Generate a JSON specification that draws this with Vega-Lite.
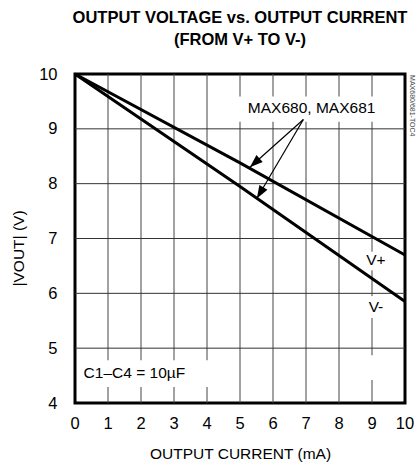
{
  "$schema": "https://vega.github.io/schema/vega-lite/v6.json",
  "autosize": {"type": "none"},
  "padding": {"left": 75, "top": 74, "right": 12, "bottom": 63},
  "width": 330,
  "height": 329,
  "background": "white",
  "title": {
    "text": ["OUTPUT VOLTAGE vs. OUTPUT CURRENT", "(FROM V+ TO V-)"],
    "anchor": "middle",
    "fontSize": 16.5,
    "fontWeight": "bold",
    "lineHeight": 22,
    "offset": 18,
    "color": "black"
  },
  "datasets": {
    "curves": [
      {"current": 0, "vout": 10, "series": "V+"},
      {"current": 5, "vout": 8.38, "series": "V+"},
      {"current": 10, "vout": 6.7, "series": "V+"},
      {"current": 0, "vout": 10, "series": "V-"},
      {"current": 5, "vout": 7.95, "series": "V-"},
      {"current": 10, "vout": 5.85, "series": "V-"}
    ],
    "gridx": [
      {"v": 1}, {"v": 2}, {"v": 3}, {"v": 4}, {"v": 5},
      {"v": 6}, {"v": 7}, {"v": 8}, {"v": 9}
    ],
    "gridy": [
      {"v": 5}, {"v": 6}, {"v": 7}, {"v": 8}, {"v": 9}
    ],
    "xticks": [
      {"v": 0}, {"v": 1}, {"v": 2}, {"v": 3}, {"v": 4}, {"v": 5},
      {"v": 6}, {"v": 7}, {"v": 8}, {"v": 9}, {"v": 10}
    ],
    "boxes": [
      {"x": 4.55, "x2": 9.18, "y": 9.13, "y2": 9.59},
      {"x": 8.76, "x2": 9.52, "y": 6.42, "y2": 6.76},
      {"x": 8.76, "x2": 9.52, "y": 5.55, "y2": 5.95},
      {"x": 0.1, "x2": 4.3, "y": 4.29, "y2": 4.78},
      {"x": 8.9, "x2": 9.1, "y": 4.42, "y2": 4.87}
    ],
    "arrows": [
      {"name": "a1", "x": 6.92, "y": 9.17, "tx": 5.3, "ty": 8.3},
      {"name": "a2", "x": 6.92, "y": 9.17, "tx": 5.51, "ty": 7.73}
    ],
    "labels": [
      {"label": "MAX680, MAX681", "x": 7.17, "y": 9.38},
      {"label": "V+", "x": 9.12, "y": 6.6},
      {"label": "V-", "x": 9.12, "y": 5.75},
      {"label": "C1–C4 = 10µF", "x": 1.8, "y": 4.54}
    ],
    "side": [
      {"label": "MAX680/681-TOC4", "x": 10.21, "y": 9.98}
    ]
  },
  "layer": [
    {
      "data": {"name": "gridx"},
      "mark": {"type": "rule", "color": "#444", "strokeWidth": 1},
      "encoding": {
        "x": {"field": "v", "type": "quantitative", "scale": {"domain": [0, 10], "nice": false, "zero": false},
          "axis": {
            "labels": false,
            "grid": false,
            "title": "OUTPUT CURRENT (mA)",
            "titleBaseline": "alphabetic",
            "titleY": 55
          }}
      }
    },
    {
      "data": {"name": "gridy"},
      "mark": {"type": "rule", "color": "#333", "strokeWidth": 1},
      "encoding": {
        "y": {"field": "v", "type": "quantitative", "scale": {"domain": [4, 10], "nice": false, "zero": false},
          "axis": {
            "values": [4, 5, 6, 7, 8, 9, 10],
            "format": "d",
            "grid": false,
            "labelOverlap": false,
            "labelFlush": false,
            "title": "|VOUT| (V)",
            "titleX": -57,
            "titleY": 174,
            "titleBaseline": "middle",
            "titleAlign": "center",
            "labelPadding": 18
          }}
      }
    },
    {
      "data": {"name": "boxes"},
      "mark": {"type": "rect", "color": "white", "opacity": 1},
      "encoding": {
        "x": {"field": "x", "type": "quantitative"},
        "x2": {"field": "x2"},
        "y": {"field": "y", "type": "quantitative"},
        "y2": {"field": "y2"}
      }
    },
    {
      "data": {"name": "curves"},
      "mark": {"type": "line", "color": "black", "strokeWidth": 3},
      "encoding": {
        "x": {"field": "current", "type": "quantitative"},
        "y": {"field": "vout", "type": "quantitative"},
        "detail": {"field": "series"}
      }
    },
    {
      "data": {"name": "arrows"},
      "mark": {"type": "rule", "color": "black", "strokeWidth": 1.2},
      "encoding": {
        "x": {"field": "x", "type": "quantitative"},
        "y": {"field": "y", "type": "quantitative"},
        "x2": {"field": "tx"},
        "y2": {"field": "ty"}
      }
    },
    {
      "data": {"name": "arrows"},
      "transform": [{"filter": "datum.name === 'a1'"}],
      "mark": {"type": "point", "shape": "M0,0L-0.36,1L0.36,1Z", "filled": true, "color": "black", "opacity": 1, "size": 676, "angle": 228},
      "encoding": {
        "x": {"field": "tx", "type": "quantitative"},
        "y": {"field": "ty", "type": "quantitative"}
      }
    },
    {
      "data": {"name": "arrows"},
      "transform": [{"filter": "datum.name === 'a2'"}],
      "mark": {"type": "point", "shape": "M0,0L-0.36,1L0.36,1Z", "filled": true, "color": "black", "opacity": 1, "size": 676, "angle": 210.5},
      "encoding": {
        "x": {"field": "tx", "type": "quantitative"},
        "y": {"field": "ty", "type": "quantitative"}
      }
    },
    {
      "data": {"name": "xticks"},
      "mark": {"type": "text", "fontSize": 16.5, "color": "black", "align": "center", "baseline": "middle", "dy": 21},
      "encoding": {
        "x": {"field": "v", "type": "quantitative"},
        "y": {"datum": 4, "type": "quantitative"},
        "text": {"field": "v", "type": "quantitative", "format": "d"}
      }
    },
    {
      "data": {"name": "labels"},
      "mark": {"type": "text", "fontSize": 15.5, "color": "black", "align": "center", "baseline": "middle"},
      "encoding": {
        "x": {"field": "x", "type": "quantitative"},
        "y": {"field": "y", "type": "quantitative"},
        "text": {"field": "label"}
      }
    },
    {
      "data": {"name": "side"},
      "mark": {"type": "text", "fontSize": 7, "color": "#444", "align": "left", "baseline": "middle", "angle": 90},
      "encoding": {
        "x": {"field": "x", "type": "quantitative"},
        "y": {"field": "y", "type": "quantitative"},
        "text": {"field": "label"}
      }
    }
  ],
  "config": {
    "font": "Liberation Sans",
    "view": {"stroke": "black", "strokeWidth": 3},
    "axis": {
      "domain": false,
      "ticks": false,
      "labelFontSize": 16.5,
      "labelColor": "black",
      "titleFontSize": 15.5,
      "titleFontWeight": "normal",
      "titleColor": "black",
      "labelFont": "Liberation Sans",
      "titleFont": "Liberation Sans"
    },
    "title": {"font": "Liberation Sans"}
  }
}
